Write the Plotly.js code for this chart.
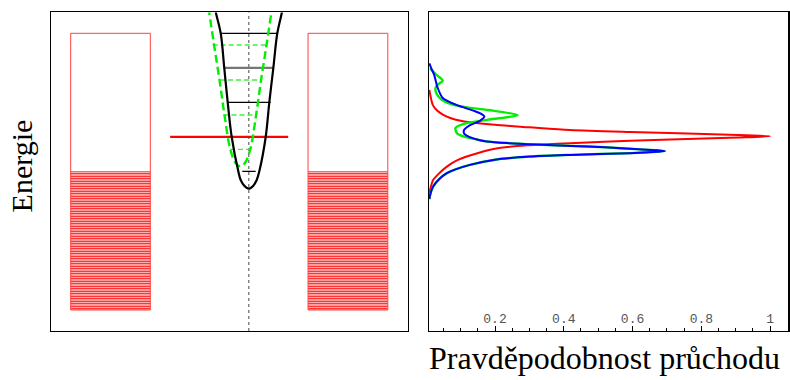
<!DOCTYPE html>
<html><head><meta charset="utf-8">
<script src="https://cdn.plot.ly/plotly-3.0.1.min.js"></script>
<style>html,body{margin:0;padding:0;background:#fff;}#chart{width:790px;height:380px;}</style>
</head><body><div id="chart"></div>
<script>
// ---------- Left panel (energy diagram) ----------
const wellBlackX = [4.598, 4.626, 4.758, 4.858, 4.954, 5.066, 5.251, 5.318, 5.419, 5.545, 5.671, 5.767, 5.840, 6.019, 6.120, 6.232, 6.344, 6.468, 6.496];
const wellBlackE = [5.25, 5.084, 4.504, 3.490, 2.504, 1.499, 0.504, 0.252, 0.087, 0.0, 0.087, 0.252, 0.504, 1.499, 2.504, 3.490, 4.504, 5.084, 5.25];
const wellGreenX = [4.410, 4.438, 4.572, 4.724, 4.864, 5.027, 5.181, 5.307, 5.433, 5.587, 5.750, 5.890, 6.042, 6.176, 6.204];
const wellGreenE = [5.25, 5.084, 4.165, 3.151, 2.136, 1.142, 0.736, 0.646, 0.736, 1.142, 2.136, 3.151, 4.165, 5.084, 5.25];
const levelBlackE = [0.504, 1.5, 2.504, 3.5, 4.504];
const levelBlackX0 = [5.363, 5.131, 4.943, 4.850, 4.738];
const levelBlackX1 = [5.738, 5.967, 6.159, 6.252, 6.356];
const levelGreenE = [1.142, 2.136, 3.151, 4.165];
const levelGreenX0 = [5.018, 4.836, 4.738, 4.533];
const levelGreenX1 = [5.579, 5.775, 5.812, 6.054];
const incidentE = [1.5, 1.5];
const incidentX = [3.34, 6.65];
const leadLeftX = [0.552, 2.784];
const leadRightX = [7.206, 9.442];
const leadE = [-3.516, 0.504, 4.504]; // band bottom, Fermi level, band top
const wellCenterX = 5.545;

// ---------- Right panel (transmission probability) ----------
const redP = [0.009, 0.012, 0.019, 0.03, 0.048, 0.07, 0.1, 0.14, 0.2, 0.3, 0.418, 0.593, 0.883, 1.0,
              0.883, 0.593, 0.418, 0.30, 0.2, 0.127, 0.085, 0.06, 0.04, 0.02, 0.012, 0.009];
const redE = [2.86, 2.70, 2.43, 2.28, 2.15, 2.05, 1.97, 1.91, 1.85, 1.78, 1.70, 1.64, 1.565, 1.52,
              1.48, 1.39, 1.32, 1.26, 1.16, 0.96, 0.80, 0.64, 0.47, 0.25, 0.0, -0.12];
const blueP = [0.009, 0.015, 0.023, 0.033, 0.048, 0.087, 0.135, 0.16, 0.169, 0.155, 0.125, 0.11, 0.11, 0.125, 0.15,
               0.176, 0.24, 0.32, 0.42, 0.52, 0.62, 0.67, 0.694,
               0.67, 0.593, 0.42, 0.30, 0.2, 0.127, 0.085, 0.06, 0.04, 0.02, 0.012, 0.009];
const blueE = [3.63, 3.48, 3.30, 2.93, 2.63, 2.43, 2.27, 2.17, 2.09, 1.96, 1.83, 1.70, 1.60, 1.50, 1.42,
               1.37, 1.32, 1.28, 1.24, 1.20, 1.14, 1.115, 1.09,
               1.07, 1.03, 0.98, 0.93, 0.84, 0.69, 0.56, 0.45, 0.30, 0.06, -0.15, -0.30];
const greenP = [0.011, 0.03, 0.048, 0.035, 0.027, 0.03, 0.045, 0.07, 0.11, 0.18, 0.266, 0.18, 0.11, 0.085, 0.09, 0.11, 0.15,
                0.176, 0.24, 0.32, 0.42, 0.52, 0.62, 0.67, 0.694,
                0.67, 0.593, 0.42, 0.30, 0.2, 0.127, 0.085, 0.06, 0.04, 0.02, 0.012, 0.009];
const greenE = [3.49, 3.30, 3.13, 3.03, 2.92, 2.75, 2.58, 2.46, 2.37, 2.28, 2.13, 2.00, 1.88, 1.76, 1.60, 1.51, 1.42,
                1.37, 1.32, 1.28, 1.24, 1.20, 1.14, 1.115, 1.09,
                1.07, 1.03, 0.98, 0.93, 0.84, 0.69, 0.56, 0.45, 0.30, 0.06, -0.15, -0.30];
const probTickVals = [0.2, 0.4, 0.6, 0.8, 1];
const probTickText = ['0.2', '0.4', '0.6', '0.8', '1'];

const traces = [];
function rect(xs, e0, e1) {
  return {x: [xs[0], xs[1], xs[1], xs[0], xs[0]], y: [e0, e0, e1, e1, e0]};
}
[leadLeftX, leadRightX].forEach(xs => {
  const h = rect(xs, leadE[0], leadE[1]);
  traces.push({type: 'scatter', mode: 'lines', x: h.x, y: h.y, fill: 'toself',
    fillcolor: 'rgba(0,0,0,0)', line: {width: 0, color: 'rgba(0,0,0,0)'},
    fillpattern: {shape: '-', fgcolor: '#ff0000', bgcolor: 'rgba(0,0,0,0)', size: 2.5, solidity: 0.55},
    hoverinfo: 'skip', xaxis: 'x', yaxis: 'y'});
  const o = rect(xs, leadE[0], leadE[2]);
  traces.push({type: 'scatter', mode: 'lines', x: o.x, y: o.y,
    line: {width: 1, color: '#ff4040'}, hoverinfo: 'skip', xaxis: 'x', yaxis: 'y'});
});
levelGreenE.forEach((e, i) => traces.push({type: 'scatter', mode: 'lines',
  x: [levelGreenX0[i], levelGreenX1[i]], y: [e, e],
  line: {width: 1.3, color: '#44ee44', dash: '5px,3px'}, xaxis: 'x', yaxis: 'y'}));
levelBlackE.forEach((e, i) => traces.push({type: 'scatter', mode: 'lines',
  x: [levelBlackX0[i], levelBlackX1[i]], y: [e, e],
  line: i === 3 ? {width: 2.2, color: '#777'} : {width: 1.2, color: '#000'}, xaxis: 'x', yaxis: 'y'}));
traces.push({type: 'scatter', mode: 'lines', x: incidentX, y: incidentE,
  line: {width: 2.2, color: '#ff0000'}, xaxis: 'x', yaxis: 'y'});
traces.push({type: 'scatter', mode: 'lines', x: wellGreenX, y: wellGreenE,
  line: {width: 2.4, color: '#00ee00', dash: '8px,4px', shape: 'spline', smoothing: 1}, xaxis: 'x', yaxis: 'y'});
traces.push({type: 'scatter', mode: 'lines', x: wellBlackX, y: wellBlackE,
  line: {width: 2.2, color: '#000', shape: 'spline', smoothing: 1}, xaxis: 'x', yaxis: 'y'});

traces.push({type: 'scatter', mode: 'lines', x: redP, y: redE,
  line: {width: 2, color: '#ff0000', shape: 'spline', smoothing: 0.8}, xaxis: 'x2', yaxis: 'y2'});
traces.push({type: 'scatter', mode: 'lines', x: greenP, y: greenE,
  line: {width: 2.4, color: '#00ee00', shape: 'spline', smoothing: 0.8}, xaxis: 'x2', yaxis: 'y2'});
traces.push({type: 'scatter', mode: 'lines', x: blueP, y: blueE,
  line: {width: 2, color: '#0000ff', shape: 'spline', smoothing: 0.8}, xaxis: 'x2', yaxis: 'y2'});

const yDom = [0.12895, 0.96711];
const eRange = [-4.125, 5.107];
const boxAxis = {showline: true, mirror: true, linecolor: '#000', linewidth: 1.5,
  showgrid: false, zeroline: false, ticks: '', showticklabels: false};

const layout = {
  width: 790, height: 380, margin: {l: 0, r: 0, t: 0, b: 0},
  paper_bgcolor: '#fff', plot_bgcolor: '#fff', showlegend: false,
  xaxis: Object.assign({}, boxAxis, {domain: [0.06456, 0.51608], range: [0, 10], anchor: 'y'}),
  yaxis: Object.assign({}, boxAxis, {domain: yDom, range: eRange, anchor: 'x'}),
  xaxis2: Object.assign({}, boxAxis, {domain: [0.54304, 0.99747], range: [0.008, 1.052], anchor: 'y2',
    ticks: 'inside', ticklen: 5, tickwidth: 1, tickcolor: '#000',
    tickvals: probTickVals, ticktext: probTickText, showticklabels: true,
    ticklabelposition: 'inside', tickfont: {family: 'Liberation Mono, monospace', size: 13, color: '#555'},
    minor: {dtick: 0.05, tick0: 0, ticks: 'inside', ticklen: 3, tickcolor: '#000', tickwidth: 1}}),
  yaxis2: Object.assign({}, boxAxis, {domain: yDom, range: eRange, anchor: 'x2'}),
  shapes: [{type: 'line', xref: 'x', yref: 'y domain', x0: wellCenterX, x1: wellCenterX, y0: 0, y1: 1,
    line: {color: '#666', width: 1.2, dash: 'dot'}, layer: 'below'}],
  annotations: [
    {text: 'Energie', xref: 'paper', yref: 'paper', x: 0.027, y: 0.563, textangle: -90,
     showarrow: false, xanchor: 'center', yanchor: 'middle',
     font: {family: 'Liberation Serif, serif', size: 30, color: '#000'}},
    {text: 'Pravděpodobnost průchodu', xref: 'paper', yref: 'paper', x: 0.7646, y: 0.058,
     showarrow: false, xanchor: 'center', yanchor: 'middle',
     font: {family: 'Liberation Serif, serif', size: 32, color: '#000'}}
  ]
};
Plotly.newPlot('chart', traces, layout, {staticPlot: true, displayModeBar: false});
</script>
</body></html>
